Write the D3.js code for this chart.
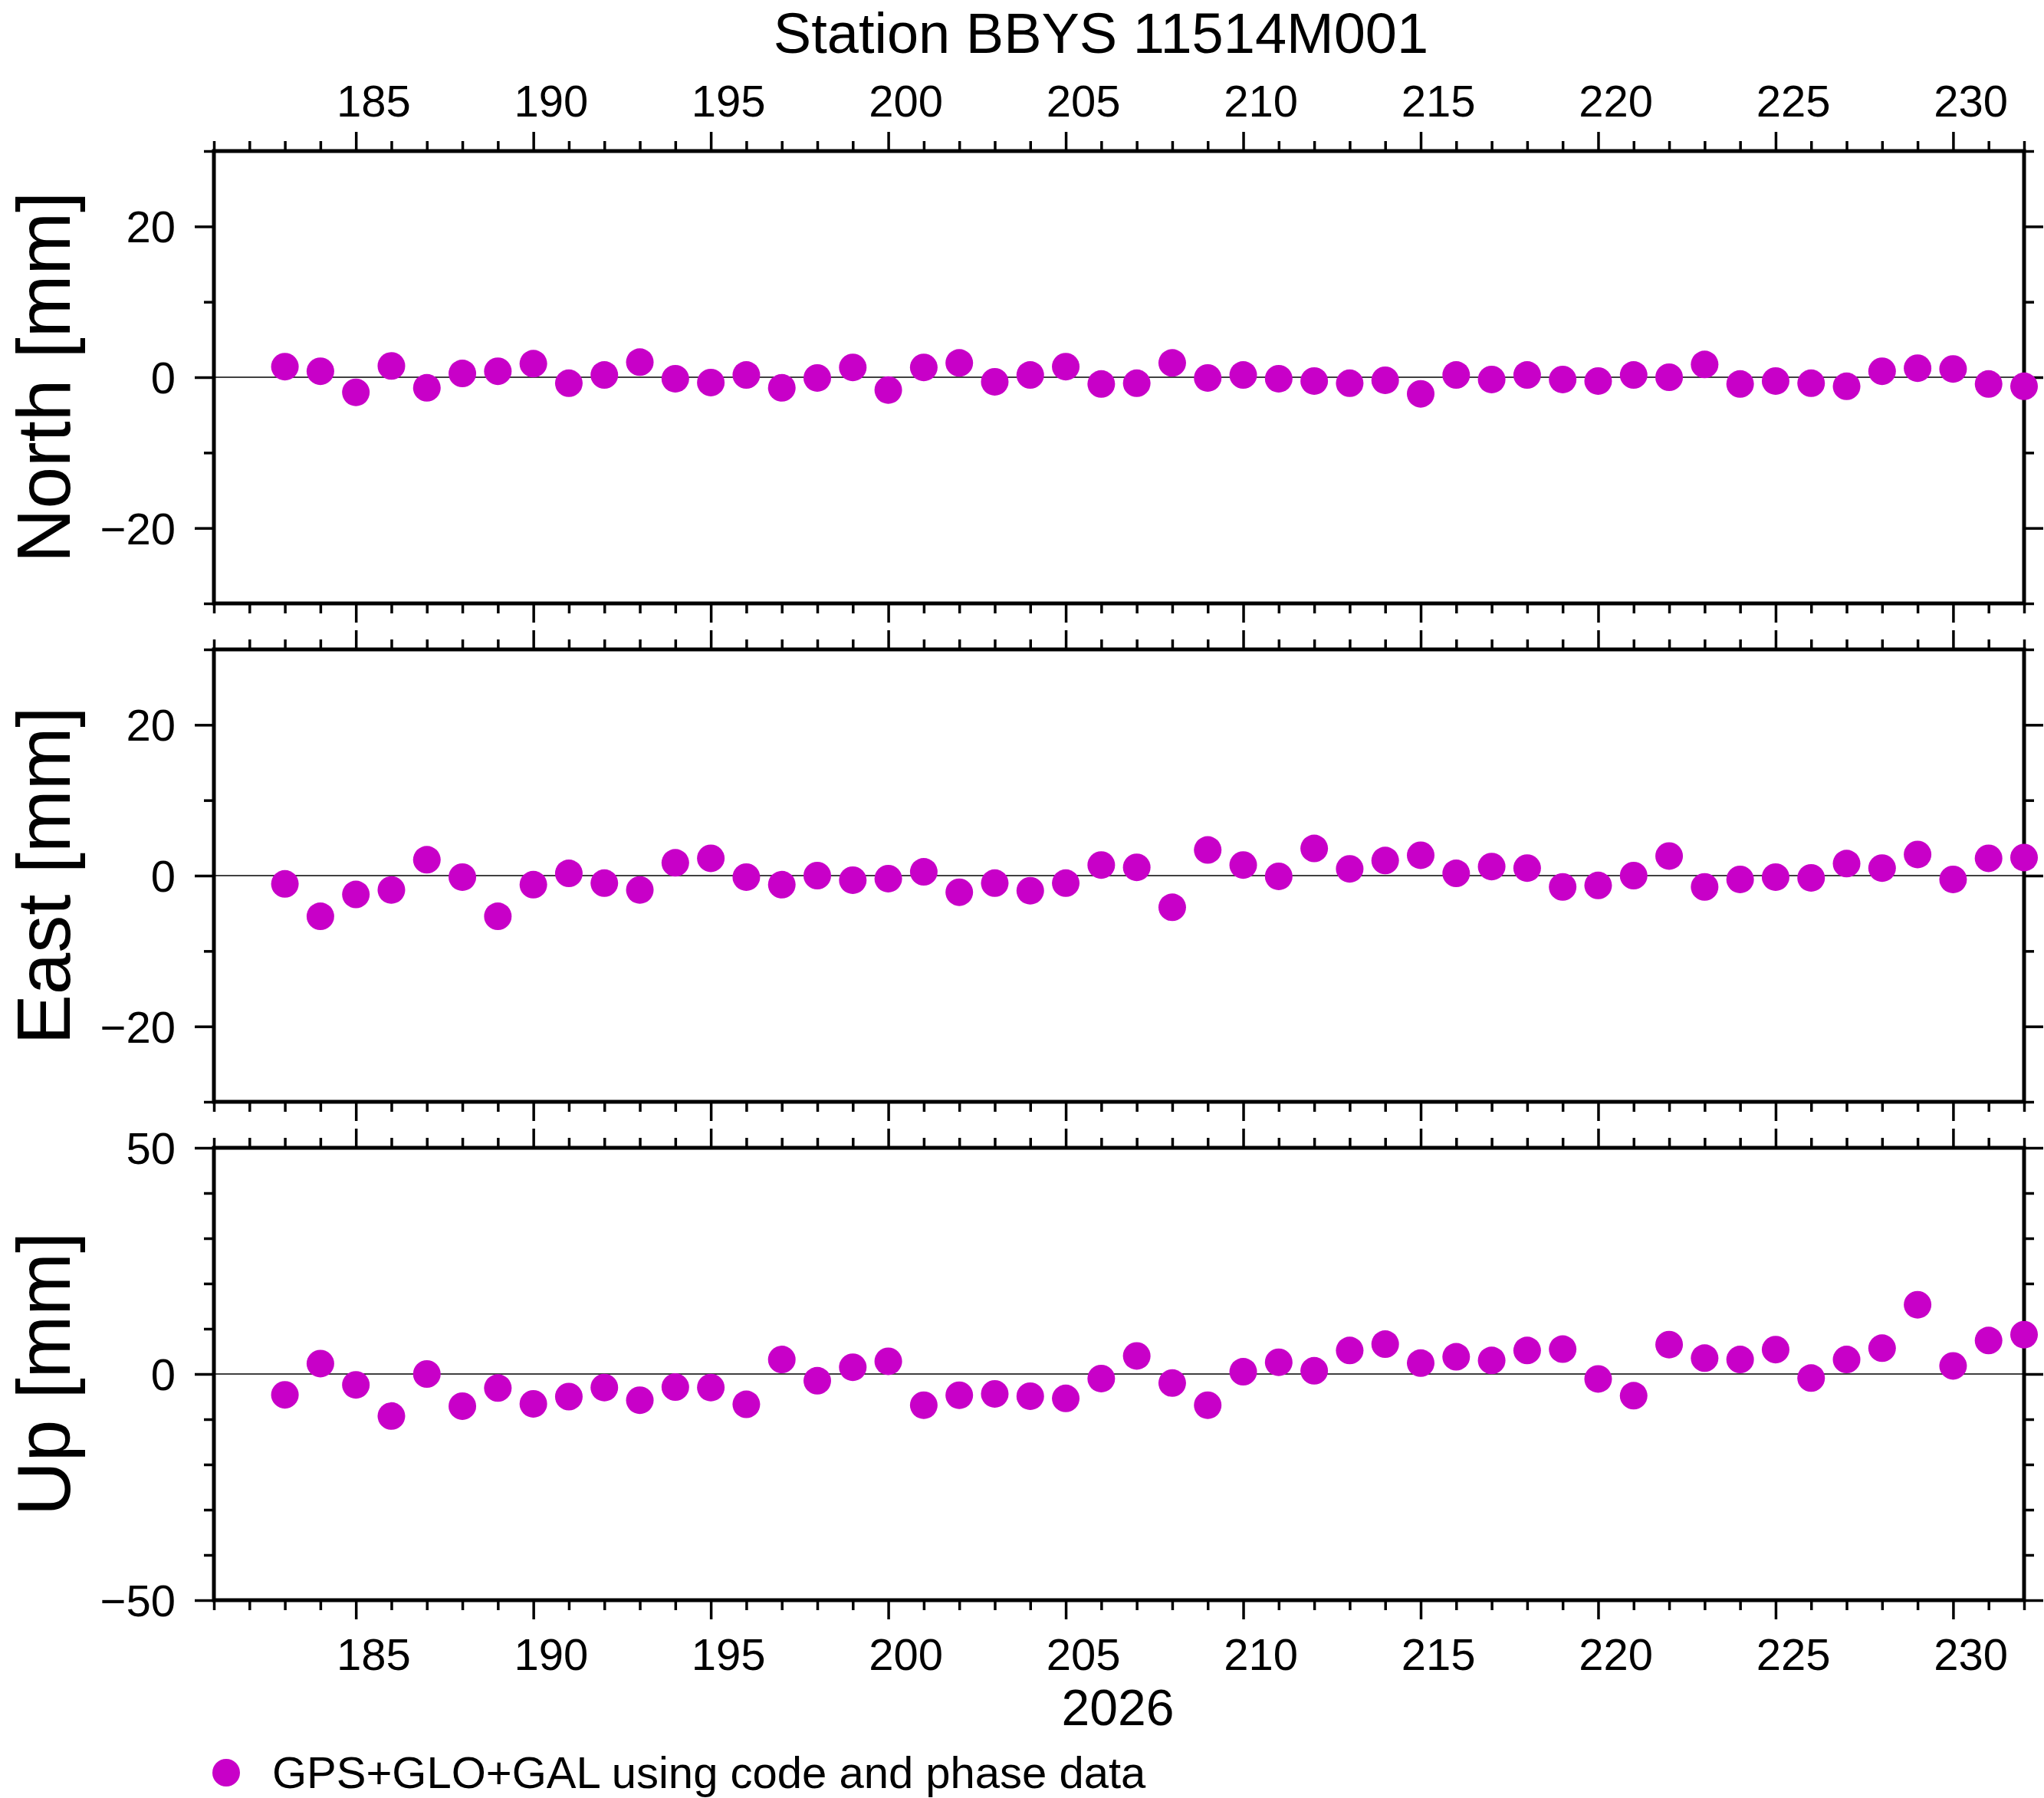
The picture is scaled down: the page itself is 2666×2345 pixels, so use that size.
<!DOCTYPE html>
<html>
<head>
<meta charset="utf-8">
<script src="https://cdn.jsdelivr.net/npm/d3@7"></script>
<style>
html,body{margin:0;padding:0;background:#fff;}
svg{display:block;}
text{font-family:"Liberation Sans",Arial,Helvetica,sans-serif;fill:#000;}
</style>
</head>
<body>
<svg id="chart" width="2666" height="2345"></svg>
<script>
// ---------------- data ----------------
const title = "Station BBYS 11514M001";
const yearLabel = "2026";
const legendLabel = "GPS+GLO+GAL using code and phase data";
const days = [183,184,185,186,187,188,189,190,191,192,193,194,195,196,197,198,199,200,201,202,
              203,204,205,206,207,208,209,210,211,212,213,214,215,216,217,218,219,220,221,222,
              223,224,225,226,227,228,229,230,231,232];
const north = [1.4,0.8,-2.0,1.5,-1.4,0.5,0.8,1.8,-0.8,0.3,2.0,-0.2,-0.7,0.3,-1.4,-0.1,1.3,-1.7,1.3,1.9,
               -0.6,0.3,1.4,-0.9,-0.8,1.9,-0.1,0.3,-0.2,-0.5,-0.8,-0.4,-2.2,0.3,-0.3,0.3,-0.3,-0.5,0.3,0.0,
               1.7,-0.9,-0.5,-0.8,-1.2,0.8,1.2,1.1,-0.9,-1.2];
const east  = [-1.1,-5.4,-2.5,-1.9,2.1,-0.2,-5.4,-1.2,0.3,-1.0,-1.9,1.7,2.3,-0.2,-1.2,0.0,-0.6,-0.4,0.5,-2.2,
               -1.0,-2.0,-1.0,1.4,1.1,-4.2,3.4,1.4,-0.1,3.6,0.9,2.0,2.7,0.3,1.2,1.0,-1.5,-1.3,0.0,2.6,
               -1.5,-0.5,-0.2,-0.3,1.6,1.0,2.8,-0.5,2.3,2.4];
const up    = [-4.6,2.3,-2.4,-9.3,0.0,-7.1,-3.1,-6.6,-5.0,-3.0,-5.8,-2.9,-3.0,-6.7,3.2,-1.5,1.5,2.8,-6.9,-4.7,
               -4.4,-4.9,-5.4,-1.0,4.0,-2.0,-6.9,0.5,2.6,0.7,5.2,6.6,2.4,3.8,3.0,5.2,5.5,-1.1,-4.8,6.5,
               3.5,3.2,5.4,-0.9,3.2,5.7,15.3,1.8,7.4,8.7];
const xDomain = [181, 232];
const xMajorTicks = [185,190,195,200,205,210,215,220,225,230];
const xMinorTicks = [181,182,183,184,186,187,188,189,191,192,193,194,196,197,198,199,201,202,203,204,
                     206,207,208,209,211,212,213,214,216,217,218,219,221,222,223,224,226,227,228,229,231,232];
const panelNames = ["North [mm]","East [mm]","Up [mm]"];
const neDomain = [-30, 30];
const upDomain = [-50, 50];
const neMajorTicks = [-20, 0, 20];
const neMinorTicks = [-30, -10, 10, 30];
const upMajorTicks = [-50, 0, 50];
const upMinorTicks = [-40,-30,-20,-10,10,20,30,40];

// ---------------- layout ----------------
const left = 279, right = 2640;
const panelTops = [197, 847, 1497];
const panelH = 590;
const dotColor = "#c800c8";
const majorLen = 25, minorLen = 13;
const fs = 58;

const svg = d3.select("#chart");
const x = d3.scaleLinear().domain(xDomain).range([left, right]);

const panels = [
  {name: panelNames[0], vals: north, dom: neDomain, maj: neMajorTicks, min: neMinorTicks},
  {name: panelNames[1], vals: east,  dom: neDomain, maj: neMajorTicks, min: neMinorTicks},
  {name: panelNames[2], vals: up,    dom: upDomain, maj: upMajorTicks, min: upMinorTicks}
];

function styleAxis(g){
  g.select(".domain").remove();
  g.selectAll(".tick line").attr("stroke","#000").attr("stroke-width",3.5);
  g.selectAll(".tick text").remove();
}

const fmt = d => (d < 0 ? "\u2212" + Math.abs(d) : String(d));

panels.forEach((p, i) => {
  const top = panelTops[i], bottom = top + panelH;
  const y = d3.scaleLinear().domain(p.dom).range([bottom, top]);
  const g = svg.append("g");

  [[d3.axisTop, top],[d3.axisBottom, bottom]].forEach(([ax, yy]) => {
    g.append("g").attr("transform",`translate(0,${yy})`)
      .call(ax(x).tickValues(xMajorTicks).tickSize(majorLen).tickFormat(""))
      .call(styleAxis);
    g.append("g").attr("transform",`translate(0,${yy})`)
      .call(ax(x).tickValues(xMinorTicks).tickSize(minorLen).tickFormat(""))
      .call(styleAxis);
  });
  [[d3.axisLeft, left],[d3.axisRight, right]].forEach(([ax, xx]) => {
    g.append("g").attr("transform",`translate(${xx},0)`)
      .call(ax(y).tickValues(p.maj).tickSize(majorLen).tickFormat(""))
      .call(styleAxis);
    g.append("g").attr("transform",`translate(${xx},0)`)
      .call(ax(y).tickValues(p.min).tickSize(minorLen).tickFormat(""))
      .call(styleAxis);
  });

  g.selectAll(".ylab").data(p.maj).enter().append("text")
    .attr("x", left - majorLen - 25)
    .attr("y", d => y(d) + 21)
    .attr("text-anchor","end")
    .attr("font-size", fs)
    .text(fmt);

  g.append("line")
    .attr("x1", left).attr("x2", right)
    .attr("y1", y(0)).attr("y2", y(0))
    .attr("stroke","#000").attr("stroke-width",1.3);

  g.append("rect")
    .attr("x", left).attr("y", top)
    .attr("width", right - left).attr("height", panelH)
    .attr("fill","none").attr("stroke","#000").attr("stroke-width",5);

  g.append("text")
    .attr("transform", `translate(91,${(top + bottom) / 2}) rotate(-90)`)
    .attr("text-anchor","middle")
    .attr("font-size", 98)
    .text(p.name);

  g.selectAll(".dot").data(days).enter().append("circle")
    .attr("cx", d => x(d))
    .attr("cy", (d, j) => y(p.vals[j]))
    .attr("r", 18)
    .attr("fill", dotColor);
});

svg.selectAll(".xtop").data(xMajorTicks).enter().append("text")
  .attr("x", d => x(d + 0.5)).attr("y", 152)
  .attr("text-anchor","middle").attr("font-size", fs).text(d => d);
svg.selectAll(".xbot").data(xMajorTicks).enter().append("text")
  .attr("x", d => x(d + 0.5)).attr("y", 2178)
  .attr("text-anchor","middle").attr("font-size", fs).text(d => d);

svg.append("text").attr("x", 1458).attr("y", 2250)
  .attr("text-anchor","middle").attr("font-size", 66).text(yearLabel);

svg.append("text").attr("x", 1436).attr("y", 69)
  .attr("text-anchor","middle").attr("font-size", 74).text(title);

svg.append("circle").attr("cx", 295).attr("cy", 2312).attr("r", 18).attr("fill", dotColor);
svg.append("text").attr("x", 355).attr("y", 2332)
  .attr("font-size", fs).text(legendLabel);
</script>
</body>
</html>
